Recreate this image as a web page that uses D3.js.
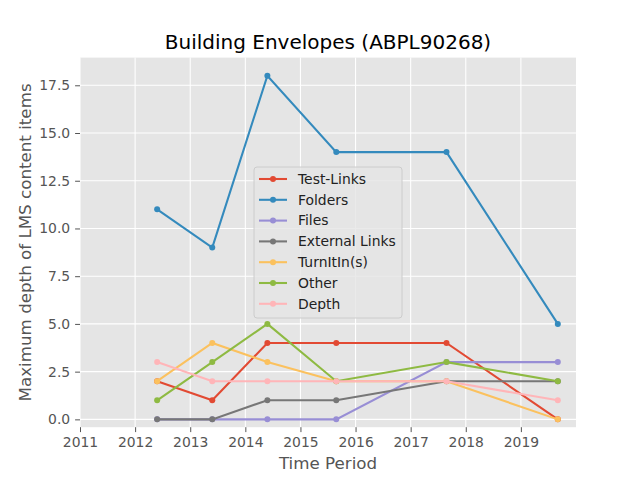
<!doctype html>
<html>
<head>
<script src="https://cdnjs.cloudflare.com/ajax/libs/d3/7.8.5/d3.min.js"></script>
<style>
  body { margin: 0; background: #fff; }
  text { font-family: "DejaVu Sans", sans-serif; }
</style>
</head>
<body>
<svg width="640" height="480"></svg>
<script>
// time periods (decimal years)
var periods = [2012.4, 2013.4, 2014.4, 2015.65, 2017.65, 2019.67];
var seriesNames = ["Test-Links", "Folders", "Files", "External Links", "TurnItIn(s)", "Other", "Depth"];
var testLinks = [2, 1, 4, 4, 4, 0];
var folders = [11, 9, 18, 14, 14, 5];
var files = [0, 0, 0, 0, 3, 3];
var externalLinks = [0, 0, 1, 1, 2, 2];
var turnItIn = [2, 4, 3, 2, 2, 0];
var other = [1, 3, 5, 2, 3, 2];
var depth = [3, 2, 2, 2, 2, 1];
var colors = ["#E24A33", "#348ABD", "#988ED5", "#777777", "#FBC15E", "#8EBA42", "#FFB5B8"];
var xTicks = [2011, 2012, 2013, 2014, 2015, 2016, 2017, 2018, 2019];
var yTicks = [0, 2.5, 5, 7.5, 10, 12.5, 15, 17.5];

var allSeries = [testLinks, folders, files, externalLinks, turnItIn, other, depth];

var pLeft = 80, pRight = 576, pTop = 57.6, pBottom = 427.2;
var svg = d3.select("svg");

var x = d3.scaleLinear().domain([2011, 2020]).range([pLeft, pRight]);
var y = d3.scaleLinear().domain([-0.41, 18.95]).range([pBottom, pTop]);

svg.append("rect")
    .attr("x", pLeft).attr("y", pTop)
    .attr("width", pRight - pLeft).attr("height", pBottom - pTop)
    .attr("fill", "#E5E5E5");

// grid
svg.append("g").selectAll("line").data(xTicks).enter().append("line")
    .attr("x1", d => x(d)).attr("x2", d => x(d))
    .attr("y1", pTop).attr("y2", pBottom)
    .attr("stroke", "#fff").attr("stroke-width", 1.1);
svg.append("g").selectAll("line").data(yTicks).enter().append("line")
    .attr("y1", d => y(d)).attr("y2", d => y(d))
    .attr("x1", pLeft).attr("x2", pRight)
    .attr("stroke", "#fff").attr("stroke-width", 1.1);

// axes
var xAxis = svg.append("g")
    .attr("transform", "translate(0," + pBottom + ")")
    .call(d3.axisBottom(x).tickValues(xTicks).tickFormat(d3.format("d")).tickSize(4.9).tickPadding(4.9));
var yAxis = svg.append("g")
    .attr("transform", "translate(" + pLeft + ",0)")
    .call(d3.axisLeft(y).tickValues(yTicks).tickFormat(d3.format(".1f")).tickSize(4.9).tickPadding(4.9));
[xAxis, yAxis].forEach(function(a) {
    a.select(".domain").remove();
    a.selectAll("line").attr("stroke", "#555555");
    a.selectAll("text").attr("fill", "#555555")
        .style("font-size", "13.9px").style("font-family", "DejaVu Sans");
});

// lines
var line = d3.line().x((d, i) => x(periods[i])).y(d => y(d));
allSeries.forEach(function(s, k) {
    var g = svg.append("g");
    g.append("path").datum(s)
        .attr("d", line)
        .attr("fill", "none")
        .attr("stroke", colors[k])
        .attr("stroke-width", 2.08);
    g.selectAll("circle").data(s).enter().append("circle")
        .attr("cx", (d, i) => x(periods[i]))
        .attr("cy", d => y(d))
        .attr("r", 3)
        .attr("fill", colors[k]);
});

// legend
var lx = 254, ly = 167, lw = 148, lh = 151;
var leg = svg.append("g");
leg.append("rect")
    .attr("x", lx).attr("y", ly).attr("width", lw).attr("height", lh)
    .attr("rx", 3)
    .attr("fill", "#E5E5E5").attr("fill-opacity", 0.8)
    .attr("stroke", "#cccccc").attr("stroke-width", 1);
seriesNames.forEach(function(name, k) {
    var yy = ly + 12 + k * 20.8;
    leg.append("line")
        .attr("x1", lx + 5).attr("x2", lx + 33)
        .attr("y1", yy).attr("y2", yy)
        .attr("stroke", colors[k]).attr("stroke-width", 2.08);
    leg.append("circle")
        .attr("cx", lx + 19).attr("cy", yy).attr("r", 3)
        .attr("fill", colors[k]);
    leg.append("text")
        .attr("x", lx + 44).attr("y", yy)
        .attr("dy", "0.35em")
        .style("font-size", "13.9px")
        .attr("fill", "#222")
        .text(name);
});

// labels
svg.append("text")
    .attr("x", (pLeft + pRight) / 2).attr("y", 49)
    .attr("text-anchor", "middle")
    .style("font-size", "20px")
    .attr("fill", "#000")
    .text("Building Envelopes (ABPL90268)");
svg.append("text")
    .attr("x", (pLeft + pRight) / 2).attr("y", 469)
    .attr("text-anchor", "middle")
    .style("font-size", "16.7px")
    .attr("fill", "#555555")
    .text("Time Period");
svg.append("text")
    .attr("transform", "translate(30.5," + ((pTop + pBottom) / 2) + ") rotate(-90)")
    .attr("text-anchor", "middle")
    .style("font-size", "16.7px")
    .attr("fill", "#555555")
    .text("Maximum depth of LMS content items");
</script>
</body>
</html>
